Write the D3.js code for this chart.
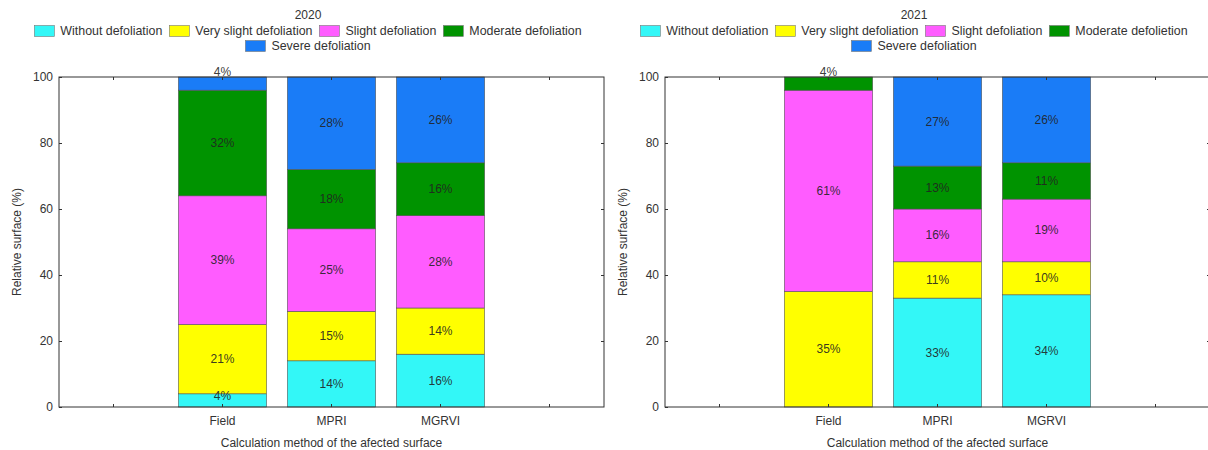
<!DOCTYPE html>
<html>
<head>
<meta charset="utf-8">
<script src="https://cdn.jsdelivr.net/npm/d3@7/dist/d3.min.js"></script>
<style>
  html, body { margin: 0; padding: 0; background: #fff; }
  svg { display: block; font-family: "Liberation Sans", Arial, sans-serif; }
</style>
</head>
<body>
<svg id="chart" width="1208" height="450"></svg>
<script>
// Calculation methods shown on the x axis
const methods = ["Field", "MPRI", "MGRVI"];

// Defoliation classes (stack order, bottom to top)
const classKeys = ["without", "verySlight", "slight", "moderate", "severe"];
const legend2020 = ["Without defoliation", "Very slight defoliation", "Slight defoliation", "Moderate defoliation", "Severe defoliation"];
const legend2021 = ["Without defoliation", "Very slight defoliation", "Slight defoliation", "Moderate defolietion", "Severe defoliation"];
const classColors = ["#33f7f7", "#ffff00", "#ff5cff", "#009300", "#1a7cf7"];

// 2020 relative surface (%) per method: Field, MPRI, MGRVI
const without2020    = [4, 14, 16];
const verySlight2020 = [21, 15, 14];
const slight2020     = [39, 25, 28];
const moderate2020   = [32, 18, 16];
const severe2020     = [4, 28, 26];

// 2021 relative surface (%) per method: Field, MPRI, MGRVI
const without2021    = [0, 33, 34];
const verySlight2021 = [35, 11, 10];
const slight2021     = [61, 16, 19];
const moderate2021   = [4, 13, 11];
const severe2021     = [0, 27, 26];

const yTicks = [0, 20, 40, 60, 80, 100];
const yLabel = "Relative surface (%)";
const xLabel = "Calculation method of the afected surface";

function rows(w, vs, s, m, sv) {
  return methods.map((name, i) => ({
    method: name, without: w[i], verySlight: vs[i], slight: s[i], moderate: m[i], severe: sv[i]
  }));
}

const panels = [
  { title: "2020", legend: legend2020, offsetX: 0,
    data: rows(without2020, verySlight2020, slight2020, moderate2020, severe2020) },
  { title: "2021", legend: legend2021, offsetX: 606,
    data: rows(without2021, verySlight2021, slight2021, moderate2021, severe2021) }
];

const svg = d3.select("#chart");
const ink = "#333";
const plot = { left: 59, top: 77, width: 545, height: 330 };
const legendCenter = 308;

// empty slots either side of the three methods
const slots = ["\u2002", ...methods, "\u2003"];

panels.forEach(p => {
  const g = svg.append("g").attr("transform", `translate(${p.offsetX},0)`);

  const x = d3.scaleBand().domain(slots).range([plot.left, plot.left + plot.width]);
  const y = d3.scaleLinear().domain([0, 100]).range([plot.top + plot.height, plot.top]);
  const barW = x.bandwidth() * 0.81;

  // title
  g.append("text").attr("x", legendCenter).attr("y", 15)
    .attr("text-anchor", "middle").attr("dominant-baseline", "central")
    .attr("font-size", 12).attr("fill", ink).text(p.title);

  // legend: first four classes on one row, the last one centred beneath
  const sw = 20, sh = 11, gapText = 6, gapItem = 7;
  const rowsLegend = [[0, 1, 2, 3], [4]];
  rowsLegend.forEach((idxs, r) => {
    const cy = 31 + r * 15;
    const row = g.append("g");
    let cx = 0;
    idxs.forEach(i => {
      const item = row.append("g").attr("transform", `translate(${cx},0)`);
      item.append("rect").attr("x", 0).attr("y", cy - sh / 2).attr("width", sw).attr("height", sh)
        .attr("fill", classColors[i]).attr("stroke", "#777").attr("stroke-width", 0.6);
      const t = item.append("text").attr("x", sw + gapText).attr("y", cy)
        .attr("dominant-baseline", "central").attr("font-size", 12.4).attr("fill", ink)
        .text(p.legend[i]);
      cx += sw + gapText + t.node().getComputedTextLength() + gapItem;
    });
    const total = cx - gapItem;
    row.attr("transform", `translate(${legendCenter - total / 2},0)`);
  });

  // stacked bars
  const series = d3.stack().keys(classKeys)(p.data);
  series.forEach((s, si) => {
    const layer = g.append("g");
    s.forEach(d => {
      const v = d[1] - d[0];
      if (v <= 0) return;
      const cx = x(d.data.method) + x.bandwidth() / 2;
      layer.append("rect")
        .attr("x", cx - barW / 2).attr("width", barW)
        .attr("y", y(d[1])).attr("height", y(d[0]) - y(d[1]))
        .attr("fill", classColors[si]).attr("stroke", "#555").attr("stroke-width", 0.6);
    });
  });

  // value labels
  series.forEach((s, si) => {
    s.forEach(d => {
      const v = d[1] - d[0];
      if (v <= 0) return;
      const cx = x(d.data.method) + x.bandwidth() / 2;
      let ly = (y(d[0]) + y(d[1])) / 2;
      if (v < 5 && d[1] >= 100) ly = y(100) - 5;   // thin top slice: label rides the top edge
      else if (v < 5) ly -= 4;
      g.append("text").attr("x", cx).attr("y", ly)
        .attr("text-anchor", "middle").attr("dominant-baseline", "central")
        .attr("font-size", 12).attr("fill", "#222").attr("fill-opacity", 0.9)
        .text(Math.round(v) + "%");
    });
  });

  // frame
  g.append("rect").attr("x", plot.left).attr("y", plot.top)
    .attr("width", plot.width).attr("height", plot.height)
    .attr("fill", "none").attr("stroke", ink).attr("stroke-width", 1);

  // axes with inward ticks
  const styleAxis = sel => {
    sel.select(".domain").remove();
    sel.selectAll(".tick line").attr("stroke", ink);
    sel.selectAll(".tick text").attr("fill", ink).attr("font-size", 12)
      .attr("font-family", "Liberation Sans, Arial, sans-serif");
  };

  g.append("g").attr("transform", `translate(${plot.left},0)`)
    .call(d3.axisLeft(y).tickValues(yTicks).tickSize(-3).tickPadding(6))
    .call(styleAxis);
  g.append("g").attr("transform", `translate(${plot.left + plot.width},0)`)
    .call(d3.axisRight(y).tickValues(yTicks.slice(1, -1)).tickSize(-3).tickFormat(""))
    .call(styleAxis);
  g.append("g").attr("transform", `translate(0,${plot.top + plot.height})`)
    .call(d3.axisBottom(x).tickSize(-3).tickPadding(9).tickFormat(d => methods.includes(d) ? d : ""))
    .call(styleAxis);
  g.append("g").attr("transform", `translate(0,${plot.top})`)
    .call(d3.axisTop(x).tickSize(-3).tickFormat(""))
    .call(styleAxis);

  // axis titles
  g.append("text")
    .attr("transform", `translate(17,${plot.top + plot.height / 2}) rotate(-90)`)
    .attr("text-anchor", "middle").attr("dominant-baseline", "central")
    .attr("font-size", 12).attr("fill", ink).text(yLabel);
  g.append("text").attr("x", plot.left + plot.width / 2).attr("y", 443)
    .attr("text-anchor", "middle").attr("dominant-baseline", "central")
    .attr("font-size", 12).attr("fill", ink).text(xLabel);
});
</script>
</body>
</html>
